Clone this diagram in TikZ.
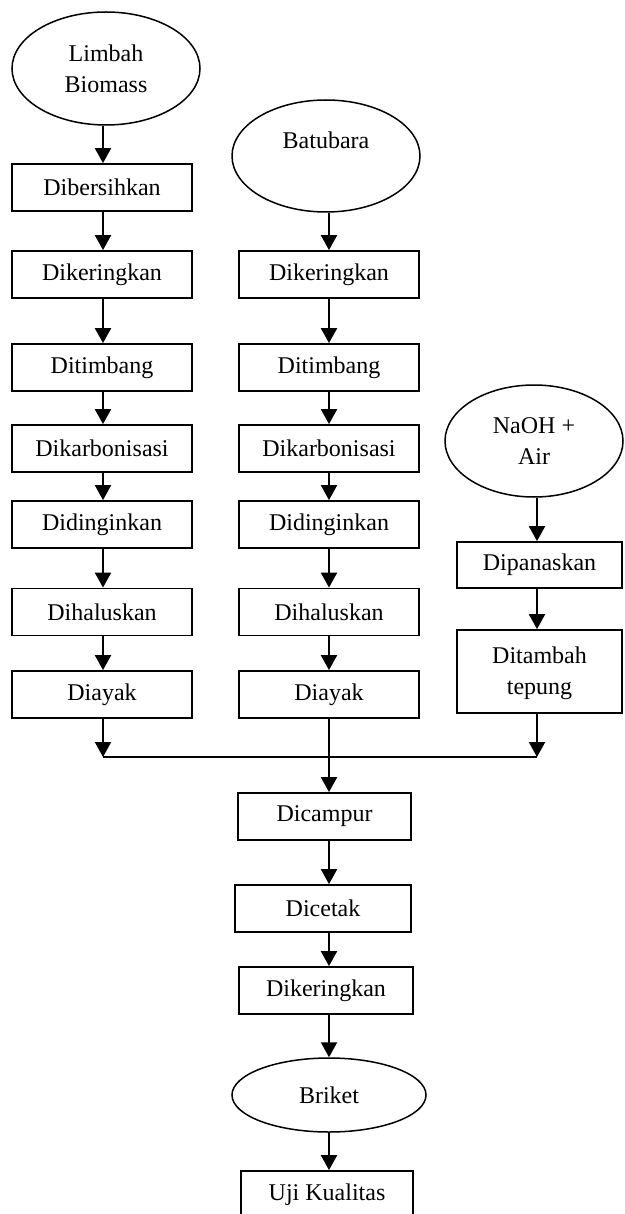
\documentclass[tikz,border=0pt]{standalone}
\usepackage{fontspec}
\setmainfont{Liberation Serif}
\usetikzlibrary{arrows.meta,shapes.geometric}
\begin{document}
\begin{tikzpicture}[x=1pt,y=-1pt,
  txt/.style={font=\fontsize{24}{31}\selectfont},
  box/.style={draw,line width=1.8pt,rectangle,inner sep=0pt,minimum height=47pt,align=center,txt},
  oval/.style={draw,line width=1.5pt,ellipse,inner sep=0pt,align=center,txt},
  arr/.style={line width=2.2pt,-{Triangle[width=16pt,length=15pt]}},
  thin/.style={line width=1.5pt},
]
\useasboundingbox (0,0) rectangle (624,1214);
\clip (0,0) rectangle (624,1214);
% left column
\node[oval,minimum width=188pt,minimum height=113pt] (lb) at (106,68.5) {Limbah\\Biomass};
\node[box,minimum width=180pt] (l1) at (102,187.5) {Dibersihkan};
\node[box,minimum width=180pt] (l2) at (102,274.5) {Dikeringkan};
\node[box,minimum width=180pt] (l3) at (102,367.5) {Ditimbang};
\node[box,minimum width=180pt] (l4) at (102,448.5) {Dikarbonisasi};
\node[box,minimum width=180pt] (l5) at (102,524.5) {Didinginkan};
\node[box,minimum width=180pt] (l6) at (102,612) {Dihaluskan};
\node[box,minimum width=180pt] (l7) at (102,694.5) {Diayak};
% middle column
\node[oval,minimum width=188pt,minimum height=112pt] (bb) at (326,156) {Batubara\\\phantom{B}};
\node[box,minimum width=180pt] (m2) at (329,274.5) {Dikeringkan};
\node[box,minimum width=180pt] (m3) at (329,367.5) {Ditimbang};
\node[box,minimum width=180pt] (m4) at (329,448.5) {Dikarbonisasi};
\node[box,minimum width=180pt] (m5) at (329,524.5) {Didinginkan};
\node[box,minimum width=180pt] (m6) at (329,612) {Dihaluskan};
\node[box,minimum width=180pt] (m7) at (329,694.5) {Diayak};
% right column
\node[oval,minimum width=178pt,minimum height=112pt] (na) at (534,441) {NaOH +\\Air};
\node[box,minimum width=165pt,minimum height=46pt] (r1) at (539.5,565) {Dipanaskan};
\node[box,minimum width=165pt,minimum height=83pt,text depth=2pt] (r2) at (539.5,671.5) {Ditambah\\tepung};
% bottom
\node[box,minimum width=173pt] (b1) at (324.5,816.5) {Dicampur};
\node[box,minimum width=176pt] (b2) at (323,908.5) {Dicetak};
\node[box,minimum width=174pt] (b3) at (326,990.5) {Dikeringkan};
\node[oval,minimum width=194pt,minimum height=74pt] (br) at (329,1095) {Briket};
\node[box,minimum width=172pt] (b4) at (327,1194.5) {Uji Kualitas};
% merge coordinates
\coordinate (ml) at (103,757);
\coordinate (mm) at (329,757);
\coordinate (mr) at (537,757);
% left arrows
\draw[arr] (lb.south -| 103,0) -- (103,0 |- l1.north);
\draw[arr] (103,0 |- l1.south) -- (103,0 |- l2.north);
\draw[arr] (103,0 |- l2.south) -- (103,0 |- l3.north);
\draw[arr] (103,0 |- l3.south) -- (103,0 |- l4.north);
\draw[arr] (103,0 |- l4.south) -- (103,0 |- l5.north);
\draw[arr] (103,0 |- l5.south) -- (103,0 |- l6.north);
\draw[arr] (103,0 |- l6.south) -- (103,0 |- l7.north);
\draw[arr] (103,0 |- l7.south) -- (ml);
% middle arrows
\draw[arr] (bb.south -| 329,0) -- (329,0 |- m2.north);
\draw[arr] (m2.south) -- (m3.north);
\draw[arr] (m3.south) -- (m4.north);
\draw[arr] (m4.south) -- (m5.north);
\draw[arr] (m5.south) -- (m6.north);
\draw[arr] (m6.south) -- (m7.north);
\draw[thin] (m7.south) -- (mm);
% right arrows
\draw[arr] (na.south -| 537,0) -- (537,0 |- r1.north);
\draw[arr] (537,0 |- r1.south) -- (537,0 |- r2.north);
\draw[arr] (537,0 |- r2.south) -- (mr);
% merge line
\draw[thin] (ml) -- (mr);
% bottom arrows
\draw[arr] (mm) -- (329,0 |- b1.north);
\draw[arr] (329,0 |- b1.south) -- (329,0 |- b2.north);
\draw[arr] (329,0 |- b2.south) -- (329,0 |- b3.north);
\draw[arr] (329,0 |- b3.south) -- (329,0 |- br.north);
\draw[arr] (329,0 |- br.south) -- (329,0 |- b4.north);
\end{tikzpicture}
\end{document}
